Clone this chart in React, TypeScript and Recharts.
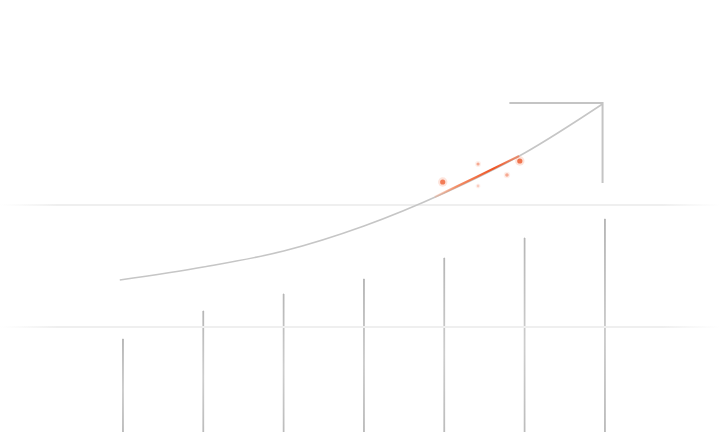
import React from 'react';
import { ComposedChart, Bar, Line, Scatter, XAxis, YAxis, ReferenceLine } from 'recharts';

// bar positions (index) and heights
const barSteps = [0, 1, 2, 3, 4, 5, 6];
const barHeights = [93, 121, 138, 153, 174, 194, 213];

// growth curve
const curveX = [-0.04, 1, 2, 3, 4, 5, 5.97];
const curveY = [152, 165, 181, 206, 239, 279, 328];

// highlighted (orange) part of the curve
const hotX = [3.88, 4.4, 4.93];
const hotY = [235, 255, 276];

// arrow head
const arrowX = [4.81, 5.97, 5.97];
const arrowY = [329, 329, 249];

// sparkles
const sparkX = [3.98, 4.42, 4.42, 4.78, 4.94];
const sparkY = [250, 268, 246, 257, 271];
const sparkR = [2.6, 1.6, 1.4, 1.8, 2.6];
const sparkA = [0.9, 0.55, 0.3, 0.55, 0.95];

const gridLevels = [105, 227];

const bars = barSteps.map((x, i) => ({ x, value: barHeights[i] }));
const curve = curveX.map((x, i) => ({ x, y: curveY[i] }));
const hot = hotX.map((x, i) => ({ x, y: hotY[i] }));
const arrow = arrowX.map((x, i) => ({ x, y: arrowY[i] }));
const sparks = sparkX.map((x, i) => ({ x, y: sparkY[i], r: sparkR[i], a: sparkA[i] }));

const Spark = (props: any) => {
    const { cx, cy, payload } = props;
    return (
        <g>
            <circle cx={cx} cy={cy} r={payload.r * 1.8} fill="#f26a3d" fillOpacity={payload.a * 0.2} />
            <circle cx={cx} cy={cy} r={payload.r} fill="#ee5a2c" fillOpacity={payload.a * 0.85} />
        </g>
    );
};

const App = () => {
    return (
        <div style={{ position: 'absolute', left: 0, top: 0, width: 720, height: 432, background: '#fff' }}>
            <ComposedChart width={720} height={432} data={bars} margin={{ top: 0, right: 0, bottom: 0, left: 0 }}>
                <defs>
                    <linearGradient id="gridFade" gradientUnits="userSpaceOnUse" x1="0" y1="0" x2="720" y2="0">
                        <stop offset="0%" stopColor="#f2f2f2" stopOpacity={0} />
                        <stop offset="8%" stopColor="#efefef" stopOpacity={1} />
                        <stop offset="92%" stopColor="#efefef" stopOpacity={1} />
                        <stop offset="100%" stopColor="#f2f2f2" stopOpacity={0} />
                    </linearGradient>
                    <linearGradient id="barFade" x1="0" y1="0" x2="0" y2="1">
                        <stop offset="0%" stopColor="#b4b4b4" />
                        <stop offset="55%" stopColor="#cbcbcb" />
                        <stop offset="100%" stopColor="#bababa" />
                    </linearGradient>
                    <linearGradient id="hotFade" x1="0" y1="0" x2="1" y2="0">
                        <stop offset="0%" stopColor="#f7a27e" stopOpacity={0.3} />
                        <stop offset="25%" stopColor="#f4875c" stopOpacity={0.9} />
                        <stop offset="70%" stopColor="#ef5424" stopOpacity={1} />
                        <stop offset="100%" stopColor="#f26a3d" stopOpacity={0.6} />
                    </linearGradient>
                </defs>
                <XAxis type="number" dataKey="x" domain={[-1.5312, 7.432]} allowDataOverflow hide />
                <YAxis type="number" domain={[0, 432]} allowDataOverflow hide />
                {gridLevels.map((g) => (
                    <ReferenceLine key={g} y={g} stroke="url(#gridFade)" strokeWidth={2} />
                ))}
                <Bar dataKey="value" barSize={2} fill="url(#barFade)" stroke="url(#barFade)" strokeWidth={1} isAnimationActive={false} />
                <Line data={curve} dataKey="y" type="monotone" stroke="#c6c6c6" strokeWidth={1.6} dot={false} activeDot={false} isAnimationActive={false} />
                <Line data={hot} dataKey="y" type="monotone" stroke="url(#hotFade)" strokeWidth={2} dot={false} activeDot={false} isAnimationActive={false} />
                <Line data={arrow} dataKey="y" type="linear" stroke="#c4c4c4" strokeWidth={2} dot={false} activeDot={false} isAnimationActive={false} />
                <Scatter data={sparks} dataKey="y" shape={<Spark />} isAnimationActive={false} />
            </ComposedChart>
        </div>
    );
};

export default App;
